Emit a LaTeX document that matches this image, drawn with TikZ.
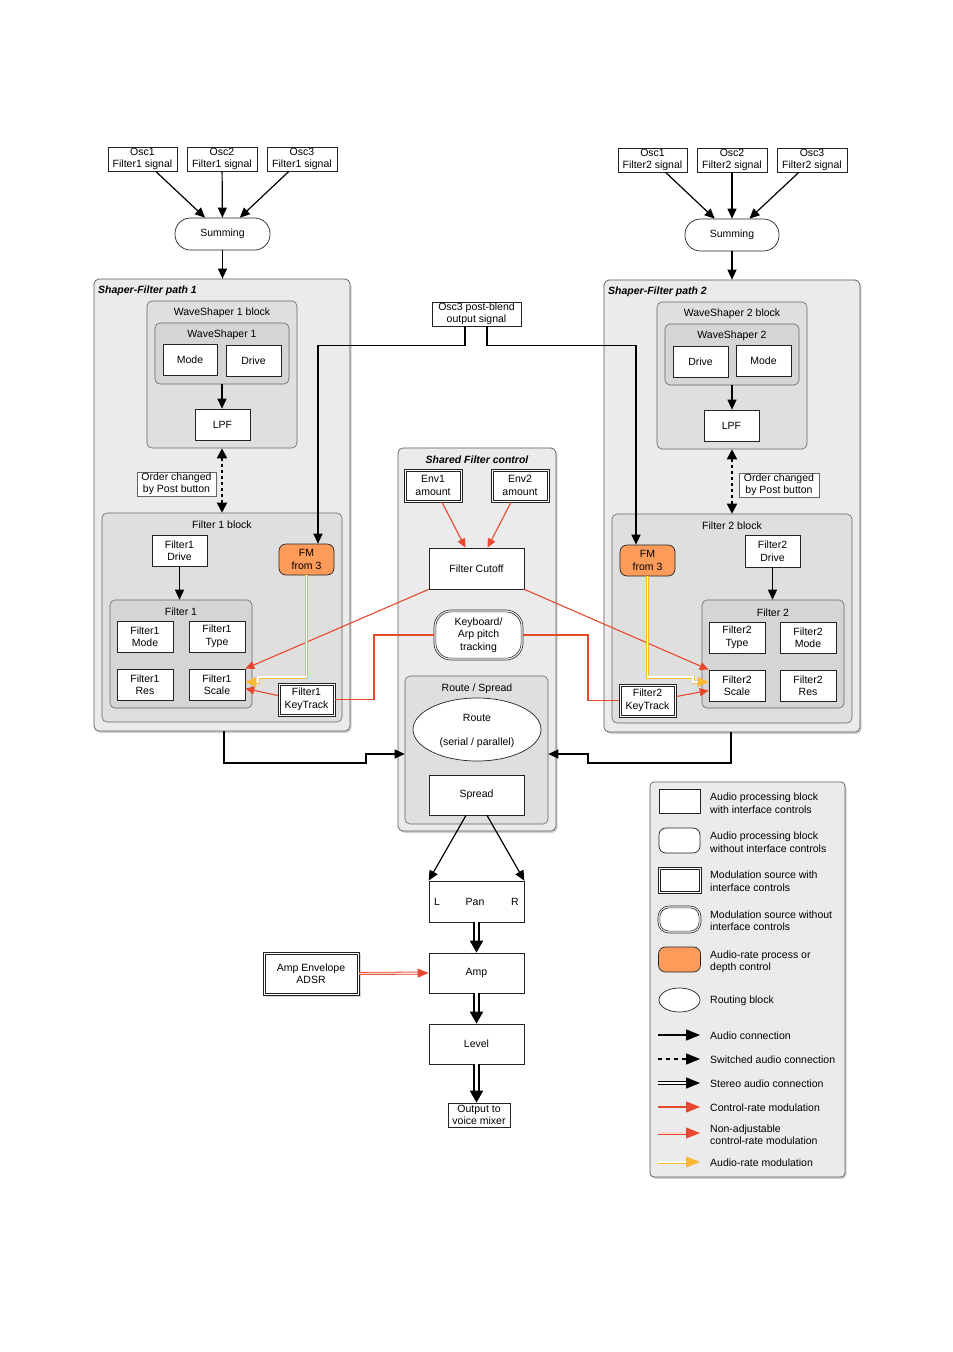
\documentclass[tikz,border=0pt]{standalone}
\usepackage{fontspec}
\setmainfont{Liberation Sans}
\usetikzlibrary{arrows.meta,shadows,shapes.geometric,calc}
\definecolor{red1}{RGB}{232,72,45}
\definecolor{orng}{RGB}{253,156,90}
\definecolor{ylw}{RGB}{250,184,52}
\definecolor{g1}{RGB}{235,235,235}
\definecolor{g2}{RGB}{223,223,223}
\definecolor{g3}{RGB}{213,213,213}
\definecolor{bd}{RGB}{35,35,35}
\newcommand\inframe[2]{\draw[draw=bd, line width=0.6pt, rounded corners=#2] ([xshift=2.2pt,yshift=-2.2pt]#1.north west) rectangle ([xshift=-2.2pt,yshift=2.2pt]#1.south east);}
\begin{document}
\begin{tikzpicture}[x=1pt,y=-1pt,
 every node/.style={font=\fontsize{10.5}{12.5}\selectfont, align=center, inner sep=1pt},
 box/.style={draw=bd, line width=0.7pt, fill=white},
 modbox/.style={draw=bd, line width=0.6pt, fill=white},
 fmbox/.style={draw=bd, line width=0.7pt, fill=orng, rounded corners=7pt},
 outerbox/.style={draw=bd!75, line width=0.7pt, fill=g1, rounded corners=5pt, drop shadow={opacity=0.35, shadow xshift=1.5pt, shadow yshift=-2pt}},
 midbox/.style={draw=bd!70, line width=0.6pt, fill=g2, rounded corners=5pt},
 innerbox/.style={draw=bd!70, line width=0.6pt, fill=g3, rounded corners=5pt},
 ttl/.style={font=\fontsize{10.5}{12.5}\selectfont\bfseries\itshape},
 aud/.style={draw=black, line width=1.2pt, -{Triangle[length=10pt,width=9pt]}},
 swaud/.style={draw=black, line width=2pt, dash pattern=on 3pt off 3pt, {Triangle[length=10pt,width=10pt]}-{Triangle[length=10pt,width=10pt]}},
 stereo/.style={draw=black, line width=2pt, double=white, double distance=3pt, -{Triangle[length=12pt,width=13pt]}},
 ctl/.style={draw=red1, line width=1.1pt, -{Triangle[length=9pt,width=8pt]}},
 ctlline/.style={draw=red1, line width=1.1pt},
 nactl/.style={draw=red1, line width=0.8pt, double=red1!20, double distance=1.4pt, -{Triangle[length=11pt,width=9pt,fill=red1]}},
 amod/.style={draw=ylw, line width=0.8pt, double=white, double distance=1.4pt, -{Triangle[length=11pt,width=10pt,fill=ylw]}},
]
\fill[white] (0,0) rectangle (953,1352);
\useasboundingbox (0,0) rectangle (953,1352);

% ================= LEFT PATH =================
\node[box, minimum width=69pt, minimum height=24pt] (osc1a) at (142.5,159) {Osc1\\Filter1 signal};
\node[box, minimum width=70pt, minimum height=24pt] (osc2a) at (222,159) {Osc2\\Filter1 signal};
\node[box, minimum width=70pt, minimum height=24pt] (osc3a) at (302,159) {Osc3\\Filter1 signal};
\node[box, rounded corners=15.5pt, minimum width=95pt, minimum height=32pt] (sum1) at (222.5,234) {Summing};

\node[outerbox, minimum width=256pt, minimum height=452pt] (path1) at (222,505) {};
\node[ttl, anchor=west] (path1t) at (97,290.5) {Shaper-Filter path 1};
\node[midbox, minimum width=150pt, minimum height=147pt] (ws1block) at (222,374.5) {};
\node (ws1blockt) at (222,312.5) {WaveShaper 1 block};
\node[innerbox, minimum width=134pt, minimum height=61pt] (ws1) at (222,353.5) {};
\node (ws1t) at (222,334.5) {WaveShaper 1};
\node[box, minimum width=54pt, minimum height=31pt] (ws1mode) at (190,359.5) {Mode};
\node[box, minimum width=55pt, minimum height=31pt] (ws1drive) at (253.5,360.5) {Drive};
\node[box, minimum width=55pt, minimum height=31pt] (lpf1) at (222.5,424.5) {LPF};
\node[box, draw=bd!70, minimum width=79pt, minimum height=24pt] (order1) at (176.5,484) {Order changed\\by Post button};

\node[midbox, minimum width=240pt, minimum height=209pt] (f1block) at (222,617.5) {};
\node (f1blockt) at (222,524.5) {Filter 1 block};
\node[box, minimum width=55pt, minimum height=31pt] (f1drive) at (179.5,550.5) {Filter1\\Drive};
\node[innerbox, minimum width=142pt, minimum height=108pt] (f1) at (181,654) {};
\node (f1t) at (181,611.5) {Filter 1};
\node[box, minimum width=56pt, minimum height=31pt] (f1mode) at (145,636.5) {Filter1\\Mode};
\node[box, minimum width=56pt, minimum height=31pt] (f1type) at (217,636.5) {Filter1\\Type};
\node[box, minimum width=56pt, minimum height=31pt] (f1res) at (145,684.5) {Filter1\\Res};
\node[box, minimum width=56pt, minimum height=31pt] (f1scale) at (217,684.5) {Filter1\\Scale};
\node[fmbox, minimum width=55pt, minimum height=31pt] (fm1) at (306.5,559.5) {FM\\from 3};
\node[modbox, minimum width=57pt, minimum height=33pt] (kt1) at (306.5,699.5) {Filter1\\KeyTrack};
\inframe{kt1}{0pt}

% ================= RIGHT PATH =================
\node[box, minimum width=69pt, minimum height=24pt] (osc1b) at (652.5,160) {Osc1\\Filter2 signal};
\node[box, minimum width=70pt, minimum height=24pt] (osc2b) at (732,160) {Osc2\\Filter2 signal};
\node[box, minimum width=70pt, minimum height=24pt] (osc3b) at (812,160) {Osc3\\Filter2 signal};
\node[box, rounded corners=15.5pt, minimum width=94pt, minimum height=32pt] (sum2) at (732,235) {Summing};

\node[outerbox, minimum width=256pt, minimum height=452pt] (path2) at (732,506) {};
\node[ttl, anchor=west] (path2t) at (607,291.5) {Shaper-Filter path 2};
\node[midbox, minimum width=150pt, minimum height=147pt] (ws2block) at (732,375.5) {};
\node (ws2blockt) at (732,313.5) {WaveShaper 2 block};
\node[innerbox, minimum width=134pt, minimum height=61pt] (ws2) at (732,354.5) {};
\node (ws2t) at (732,335.5) {WaveShaper 2};
\node[box, minimum width=55pt, minimum height=31pt] (ws2drive) at (700.5,361.5) {Drive};
\node[box, minimum width=55pt, minimum height=31pt] (ws2mode) at (763.5,360.5) {Mode};
\node[box, minimum width=55pt, minimum height=31pt] (lpf2) at (731.5,425.5) {LPF};
\node[box, draw=bd!70, minimum width=80pt, minimum height=24pt] (order2) at (779,485) {Order changed\\by Post button};

\node[midbox, minimum width=240pt, minimum height=209pt] (f2block) at (732,618.5) {};
\node (f2blockt) at (732,525.5) {Filter 2 block};
\node[fmbox, minimum width=55pt, minimum height=31pt] (fm2) at (647.5,560.5) {FM\\from 3};
\node[box, minimum width=55pt, minimum height=32pt] (f2drive) at (772.5,551) {Filter2\\Drive};
\node[innerbox, minimum width=142pt, minimum height=108pt] (f2) at (773,654) {};
\node (f2t) at (773,612.5) {Filter 2};
\node[box, minimum width=56pt, minimum height=31pt] (f2type) at (737,637.5) {Filter2\\Type};
\node[box, minimum width=56pt, minimum height=31pt] (f2mode) at (808,637.5) {Filter2\\Mode};
\node[box, minimum width=56pt, minimum height=31pt] (f2scale) at (737,685.5) {Filter2\\Scale};
\node[box, minimum width=56pt, minimum height=31pt] (f2res) at (808,685.5) {Filter2\\Res};
\node[modbox, minimum width=57pt, minimum height=33pt] (kt2) at (647.5,700.5) {Filter2\\KeyTrack};
\inframe{kt2}{0pt}

% ================= CENTER =================
\node[box, minimum width=89pt, minimum height=24pt] (post) at (476.5,314) {Osc3 post-blend\\output signal};
\node[outerbox, minimum width=158pt, minimum height=383pt] (shared) at (477,639.5) {};
\node[ttl] (sharedt) at (477,459.5) {Shared Filter control};
\node[modbox, minimum width=58pt, minimum height=33pt] (env1) at (433,485.5) {Env1\\amount};
\inframe{env1}{0pt}
\node[modbox, minimum width=58pt, minimum height=33pt] (env2) at (520,485.5) {Env2\\amount};
\inframe{env2}{0pt}
\node[box, minimum width=95pt, minimum height=41pt] (cutoff) at (476.5,568.5) {Filter Cutoff};
\node[modbox, rounded corners=17pt, minimum width=89pt, minimum height=50pt] (kbd) at (478.5,635) {Keyboard/\\Arp pitch\\tracking};
\inframe{kbd}{15pt}
\node[midbox, minimum width=143pt, minimum height=148pt] (routebox) at (476.5,750) {};
\node (routeboxt) at (477,688.5) {Route / Spread};
\node[box, ellipse, minimum width=128pt, minimum height=63pt] (route) at (477,729.5) {};
\node (routet1) at (477,718) {Route};
\node (routet2) at (477,743) {(serial / parallel)};
\node[box, minimum width=95pt, minimum height=40pt] (spread) at (476.5,795) {Spread};

% ================= BOTTOM =================
\node[box, minimum width=95pt, minimum height=41pt] (pan) at (476.5,901.5) {};
\node (panl) at (437,902) {L};
\node (pant) at (475,902) {Pan};
\node (panr) at (515,902) {R};
\node[box, minimum width=95pt, minimum height=40pt] (amp) at (476.5,973) {Amp};
\node[modbox, minimum width=96pt, minimum height=43pt, drop shadow={opacity=0.3, shadow xshift=1.5pt, shadow yshift=-2pt}] (ampenv) at (311,973.5) {Amp Envelope\\ADSR};
\inframe{ampenv}{0pt}
\node[box, minimum width=95pt, minimum height=40pt] (level) at (476.5,1044) {Level};
\node[box, minimum width=62pt, minimum height=24pt] (out) at (479,1115) {Output to\\voice mixer};

% ================= CONNECTORS =================
\draw[aud] (osc1a) -- (sum1);
\draw[aud] (osc2a) -- (sum1);
\draw[aud] (osc3a) -- (sum1);
\draw[aud] (sum1.south) -- (sum1.south |- path1.north);
\draw[aud] (ws1.south) -- (ws1.south |- lpf1.north);
\draw[swaud] (ws1block.south) -- (f1block.north);
\draw[aud] (f1drive.south) -- (f1drive.south |- f1.north);

\draw[aud] (osc1b) -- (sum2);
\draw[aud] (osc2b) -- (sum2);
\draw[aud] (osc3b) -- (sum2);
\draw[aud] (sum2.south) -- (path2.north);
\draw[aud] (ws2.south) -- (ws2.south |- lpf2.north);
\draw[swaud] (ws2block.south) -- (f2block.north);
\draw[aud] (f2drive.south) -- (f2drive.south |- f2.north);

\draw[aud] ([xshift=-11.5pt]post.south) -- ++(0,19) -| ([xshift=11.5pt]fm1.north);
\draw[aud] ([xshift=10.5pt]post.south) -- ++(0,19) -| ([xshift=-11.5pt]fm2.north);

\draw[ctl] ([xshift=9pt]env1.south) -- ([xshift=-11pt]cutoff.north);
\draw[ctl] ([xshift=-9pt]env2.south) -- ([xshift=11pt]cutoff.north);
\draw[ctl] (cutoff.south west) -- (f1scale.north east);
\draw[ctl] (cutoff.south east) -- (f2scale.north west);

\coordinate (k1) at (374,635);
\coordinate (k2) at (588,635);
\draw[ctlline] (kbd.west) -- (k1) |- (kt1.east);
\draw[ctlline] (kbd.east) -- (k2) |- (kt2.west);
\draw[ctl] ([yshift=4pt]kt1.west) -- ([yshift=-4pt]f1scale.east);
\draw[ctl] ([yshift=4pt]kt2.east) -- ([yshift=-5pt]f2scale.west);

\coordinate (y1) at (258,677);
\coordinate (y1b) at (258,682);
\draw[amod] (fm1.south) |- (y1) -- (y1b) -- (y1b -| f1scale.east);
\coordinate (y2) at (693,677);
\coordinate (y2b) at (693,682);
\draw[amod] (fm2.south) |- (y2) -- (y2b) -- (y2b -| f2scale.west);

\coordinate (b1) at (366,763);
\coordinate (b1b) at (366,754);
\draw[aud] ([xshift=2pt]path1.south) |- (b1) -- (b1b) -- (b1b -| routebox.west);
\coordinate (b2) at (588,763);
\coordinate (b2b) at (588,754);
\draw[aud] ([xshift=-1pt]path2.south) |- (b2) -- (b2b) -- (b2b -| routebox.east);

\draw[aud] ([xshift=-10.5pt]spread.south) -- (pan.north west);
\draw[aud] ([xshift=10.5pt]spread.south) -- (pan.north east);
\draw[stereo] (pan.south) -- (amp.north);
\draw[stereo] (amp.south) -- (level.north);
\draw[stereo] (level.south) -- (out.north -| level.south);
\draw[nactl] (ampenv.east) -- (amp.west);

% ================= LEGEND =================
\node[outerbox, rounded corners=4pt, minimum width=195pt, minimum height=395pt] (legend) at (747.5,979.5) {};
\node[box, minimum width=41pt, minimum height=24pt] (lg1) at (679.5,801) {};
\node[anchor=west, align=left] (lt1) at (709,803) {Audio processing block\\with interface controls};
\node[box, rounded corners=7pt, minimum width=41pt, minimum height=25pt] (lg2) at (679.5,840.5) {};
\node[anchor=west, align=left] (lt2) at (709,842) {Audio processing block\\without interface controls};
\node[modbox, minimum width=43pt, minimum height=26pt] (lg3) at (679.5,880) {};
\inframe{lg3}{0pt}
\node[anchor=west, align=left] (lt3) at (709,881) {Modulation source with\\interface controls};
\node[modbox, rounded corners=11pt, minimum width=43pt, minimum height=27pt] (lg4) at (679.5,919.5) {};
\inframe{lg4}{9pt}
\node[anchor=west, align=left] (lt4) at (709,920.5) {Modulation source without\\interface controls};
\node[fmbox, minimum width=42pt, minimum height=25pt] (lg5) at (679.5,959.5) {};
\node[anchor=west, align=left] (lt5) at (709,962) {Audio-rate process or\\depth control};
\node[box, ellipse, minimum width=41pt, minimum height=24pt] (lg6) at (679.5,1000) {};
\node[anchor=west, align=left] (lt6) at (709,1001) {Routing block};

\coordinate (la7) at (658,1035); \coordinate (lb7) at (700,1035);
\draw[draw=black, line width=1.4pt, -{Triangle[length=14pt,width=11pt]}] (la7) -- (lb7);
\node[anchor=west, align=left] (lt7) at (709,1036) {Audio connection};
\coordinate (la8) at (658,1059); \coordinate (lb8) at (700,1059);
\draw[draw=black, line width=1.4pt, dash pattern=on 4pt off 4pt, -{Triangle[length=14pt,width=11pt]}] (la8) -- (lb8);
\node[anchor=west, align=left] (lt8) at (709,1060) {Switched audio connection};
\coordinate (la9) at (658,1083); \coordinate (lb9) at (700,1083);
\draw[stereo, line width=1.4pt, double distance=2pt, -{Triangle[length=14pt,width=11pt]}] (la9) -- (lb9);
\node[anchor=west, align=left] (lt9) at (709,1084) {Stereo audio connection};
\coordinate (la10) at (658,1107); \coordinate (lb10) at (700,1107);
\draw[ctl, line width=1.4pt, -{Triangle[length=14pt,width=11pt]}] (la10) -- (lb10);
\node[anchor=west, align=left] (lt10) at (709,1108) {Control-rate modulation};
\coordinate (la11) at (658,1133); \coordinate (lb11) at (700,1133);
\draw[nactl, -{Triangle[length=14pt,width=11pt,fill=red1]}] (la11) -- (lb11);
\node[anchor=west, align=left] (lt11) at (709,1134.5) {Non-adjustable\\control-rate modulation};
\coordinate (la12) at (658,1162); \coordinate (lb12) at (700,1162);
\draw[amod, -{Triangle[length=14pt,width=11pt,fill=ylw]}] (la12) -- (lb12);
\node[anchor=west, align=left] (lt12) at (709,1163) {Audio-rate modulation};
\end{tikzpicture}
\end{document}
